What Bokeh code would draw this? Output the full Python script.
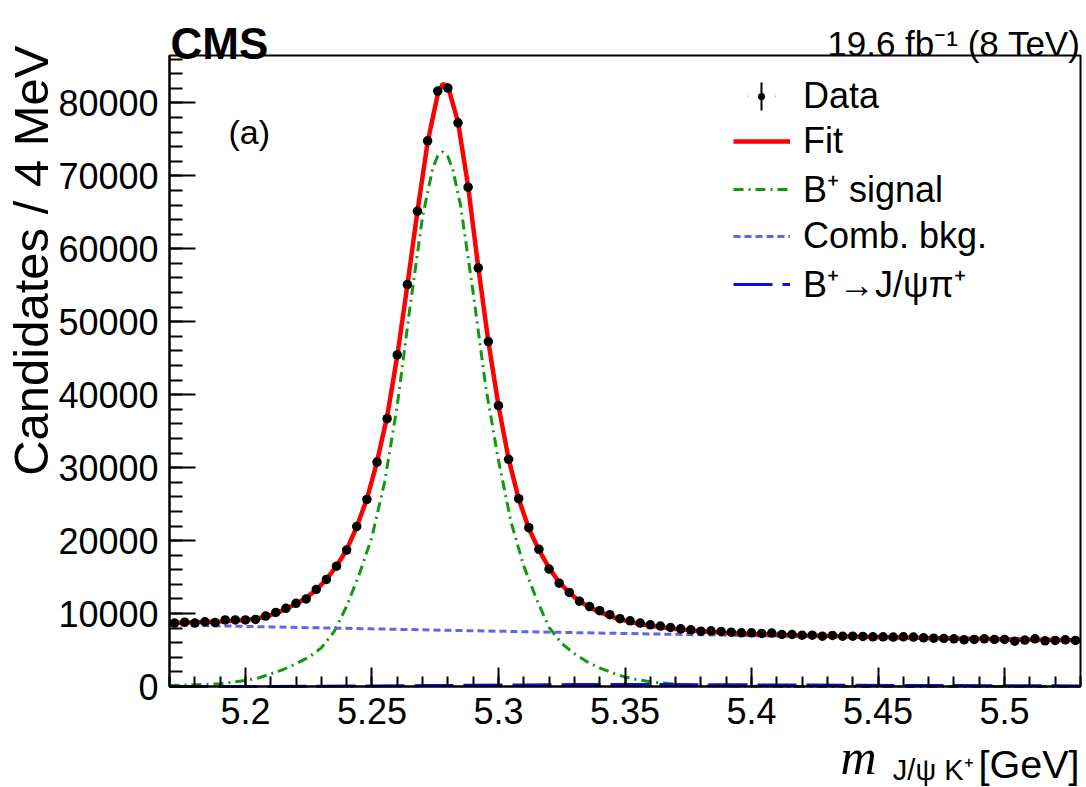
import numpy as np
from bokeh.plotting import figure
from bokeh.models import (Legend, LegendItem, Label, FixedTicker, Range1d, BoxAnnotation,
                          ColumnDataSource)
from bokeh.embed import file_html
from bokeh.resources import INLINE

# ---------------- data ----------------
bin_lo = 5.17
bin_hi = 5.53
bin_width = 0.004
data_counts = [
    8690, 8820, 8690, 8870, 8760, 9120, 9120, 9120, 9190, 9650,
    10150, 10720, 11400, 12000, 13300, 14680, 16500, 18700, 21950, 25650,
    30770, 36720, 45450, 55100, 65160, 74800, 81620, 82030, 77270, 68450,
    57380, 47280, 38500, 31140, 25750, 21770, 18800, 16100, 14170, 12900,
    11700, 10950, 10400, 9850, 9300, 9000, 8690, 8460, 8280, 8090,
    7910, 7770, 7590, 7640, 7540, 7450, 7360, 7360, 7270, 7320,
    7130, 7130, 7040, 7040, 6900, 7000, 6900, 6900, 6860, 6810,
    6810, 6770, 6810, 6770, 6680, 6630, 6580, 6540, 6400, 6450,
    6540, 6450, 6450, 6220, 6360, 6540, 6260, 6310, 6400, 6310,
]
data_mass = list(np.arange(len(data_counts)) * bin_width + bin_lo + bin_width / 2)

fit_mass = [5.170, 5.180, 5.190, 5.200, 5.204, 5.208, 5.212, 5.216, 5.220, 5.224,
            5.228, 5.232, 5.236, 5.240, 5.244, 5.248, 5.252, 5.256, 5.260, 5.264,
            5.268, 5.272, 5.276, 5.278, 5.280, 5.284, 5.288, 5.292, 5.296, 5.300,
            5.304, 5.308, 5.312, 5.316, 5.320, 5.324, 5.328, 5.332, 5.336, 5.340,
            5.344, 5.348, 5.352, 5.356, 5.360, 5.370, 5.380, 5.390, 5.400, 5.420,
            5.440, 5.460, 5.480, 5.500, 5.530]
fit_vals = [8700, 8800, 8920, 9100, 9280, 9580, 10030, 10620, 11330, 12150,
            13250, 14680, 16520, 18720, 21900, 25700, 30800, 37000, 45300, 55000,
            65200, 74600, 81200, 82600, 82300, 77400, 68600, 57500, 47300, 38500,
            31200, 25700, 21650, 18700, 16250, 14300, 12850, 11700, 10850, 10200,
            9650, 9200, 8850, 8560, 8320, 7870, 7560, 7350, 7200, 6990,
            6840, 6710, 6590, 6480, 6330]

sig_mass = [5.170, 5.180, 5.190, 5.200, 5.205, 5.210, 5.215, 5.220, 5.225, 5.230,
            5.235, 5.240, 5.245, 5.250, 5.255, 5.260, 5.265, 5.270, 5.274, 5.276,
            5.278, 5.280, 5.282, 5.285, 5.290, 5.295, 5.300, 5.305, 5.310, 5.315,
            5.320, 5.325, 5.330, 5.335, 5.340, 5.345, 5.350, 5.355, 5.360, 5.370,
            5.380, 5.390, 5.400, 5.420, 5.450, 5.530]
sig_vals = [140, 240, 380, 830, 1150, 1730, 2330, 3120, 4000, 5300,
            7500, 11000, 15400, 20500, 28000, 38500, 51900, 64400, 71000, 72750,
            73300, 72650, 70800, 66000, 54000, 41000, 31000, 22500, 16500, 12000,
            8100, 5900, 4500, 3400, 2550, 1850, 1300, 930, 640, 300,
            120, 60, 30, 10, 0, 0]

comb_mass = [5.17, 5.21, 5.25, 5.29, 5.33, 5.37, 5.41, 5.45, 5.49, 5.53]
comb_vals = [8450, 8170, 7900, 7640, 7390, 7150, 6910, 6680, 6460, 6250]

jpsipi_mass = [5.17, 5.20, 5.23, 5.25, 5.27, 5.29, 5.31, 5.33, 5.35, 5.38,
               5.41, 5.44, 5.47, 5.50, 5.53]
jpsipi_vals = [0, 5, 30, 70, 120, 170, 220, 260, 270, 250,
               210, 170, 130, 100, 80]

x_ticks = [5.2, 5.25, 5.3, 5.35, 5.4, 5.45, 5.5]
x_tick_labels = ["5.2", "5.25", "5.3", "5.35", "5.4", "5.45", "5.5"]
x_minor = [round(5.17 + 0.01 * i, 2) for i in range(37)]
y_ticks = [0, 10000, 20000, 30000, 40000, 50000, 60000, 70000, 80000]
y_tick_labels = ["0", "10000", "20000", "30000", "40000", "50000", "60000", "70000", "80000"]
y_minor = [2000 * i for i in range(44)]
y_max = 86500

legend_labels = ["Data", "Fit", "B\u207a signal", "Comb. bkg.", "B\u207a\u2192J/\u03c8\u03c0\u207a"]

# ---------------- layout helpers (pixels -> data) ----------------
W, H = 1086, 787
FL, FR, FT, FB = 169, 1080, 55, 686          # the drawn box, in canvas pixels
def to_x(px):
    return bin_lo + (px - FL) * (bin_hi - bin_lo) / (FR - FL)
def to_y(py):
    return (FB - py) * y_max / (FB - FT)

FONT = "Liberation Sans"

# the frame covers the whole canvas; axes sit at fixed data locations
p = figure(width=W, height=H,
           x_range=Range1d(to_x(0), to_x(W)), y_range=Range1d(to_y(H), to_y(0)),
           output_backend="svg", toolbar_location=None,
           min_border_left=0, min_border_right=0, min_border_top=0, min_border_bottom=0)
p.background_fill_color = "white"
p.border_fill_color = "white"
p.outline_line_color = None
p.xgrid.visible = False
p.ygrid.visible = False

xa = p.xaxis[0]
xa.fixed_location = 0
xa.bounds = (bin_lo, bin_hi)
xa.ticker = FixedTicker(ticks=x_ticks, minor_ticks=x_minor)
xa.major_label_overrides = {t: l for t, l in zip(x_ticks, x_tick_labels)}
xa.major_tick_in = 19
xa.major_tick_out = 0
xa.minor_tick_in = 10
xa.minor_tick_out = 0
xa.major_label_standoff = 11

ya = p.yaxis[0]
ya.fixed_location = bin_lo
ya.bounds = (0, y_max)
ya.ticker = FixedTicker(ticks=y_ticks, minor_ticks=y_minor)
ya.major_label_overrides = {t: l for t, l in zip(y_ticks, y_tick_labels)}
ya.major_tick_in = 26
ya.major_tick_out = 0
ya.minor_tick_in = 13
ya.minor_tick_out = 0
ya.major_label_standoff = 11

for ax in (xa, ya):
    ax.axis_line_width = 2
    ax.major_tick_line_width = 2
    ax.minor_tick_line_width = 2
    ax.axis_line_color = "black"
    ax.major_tick_line_color = "black"
    ax.minor_tick_line_color = "black"
    ax.major_label_text_font = FONT
    ax.major_label_text_font_size = "36px"
    ax.major_label_text_color = "black"

# frame box
p.add_layout(BoxAnnotation(left=bin_lo, right=bin_hi, bottom=0, top=y_max,
                           fill_alpha=0, line_color="black", line_width=2, line_alpha=1))

# ---------------- curves ----------------
r_sig = p.line(sig_mass, sig_vals, line_color="#119a11", line_width=3, line_dash="10 5 2 5")
r_comb = p.line(comb_mass, comb_vals, line_color="#6464e6", line_width=3, line_dash="7 4")
r_jp = p.line(jpsipi_mass, jpsipi_vals, line_color="#0a0af0", line_width=3, line_dash="39 10")
r_fit = p.line(fit_mass, fit_vals, line_color="#ff0000", line_width=4.5)

data_src = ColumnDataSource(dict(x=data_mass, y=data_counts))
# error bars (shorter than the markers at this scale): a cross whose
# horizontal arm is masked, leaving the vertical bar
r_bar = p.scatter("x", "y", source=data_src, marker="cross", size=4,
                  line_color="black", line_width=2)
r_mask = p.scatter("x", "y", source=data_src, marker="dash", size=4.5,
                   line_color="white", line_width=5)
r_data = p.scatter("x", "y", source=data_src, marker="dot", size=38,
                   line_color="black", fill_color="black")

def style_legend(lg):
    lg.padding = 0
    lg.margin = 0
    lg.border_line_color = None
    lg.background_fill_alpha = 0
    lg.label_text_font = FONT
    lg.label_text_font_size = "36px"
    lg.label_text_color = "black"

leg_data = Legend(items=[LegendItem(label=legend_labels[0],
                                    renderers=[r_bar, r_mask, r_data])],
                  location=(726, 656))
style_legend(leg_data)
leg_data.glyph_width = 70
leg_data.glyph_height = 70
leg_data.label_height = 40
leg_data.label_standoff = 7
p.add_layout(leg_data)

leg_fit = Legend(items=[
    LegendItem(label=legend_labels[1], renderers=[r_fit]),
    LegendItem(label=legend_labels[2], renderers=[r_sig]),
    LegendItem(label=legend_labels[3], renderers=[r_comb]),
    LegendItem(label=legend_labels[4], renderers=[r_jp]),
], location=(733, 479))
style_legend(leg_fit)
leg_fit.glyph_width = 57
leg_fit.glyph_height = 40
leg_fit.label_height = 40
leg_fit.label_standoff = 13
leg_fit.spacing = 2
p.add_layout(leg_fit)

# ---------------- texts ----------------
def add_label(px, py, text, size, align="left", baseline="alphabetic", font=FONT,
              style="normal", angle=0.0):
    p.add_layout(Label(x=to_x(px), y=to_y(py), text=text, text_font=font,
                       text_font_size=size, text_align=align, text_baseline=baseline,
                       text_font_style=style, angle=angle, text_color="black"))

add_label(170, 43, "CMS", "44px", style="bold")
add_label(1080, 43, "19.6 fb\u207b\u00b9 (8 TeV)", "35px", align="right")
add_label(228, 131, "(a)", "34px", baseline="middle")
add_label(30, 45, "Candidates / 4 MeV", "49px", align="right", angle=np.pi / 2)
add_label(1079, 763, "[GeV]", "39.5px", align="right")
add_label(973, 769, "J/\u03c8 K\u207a", "29px", align="right")
add_label(876, 756, "m", "50px", align="right", font="Liberation Serif", style="italic")

open("out.html", "w").write(file_html(p, INLINE))
